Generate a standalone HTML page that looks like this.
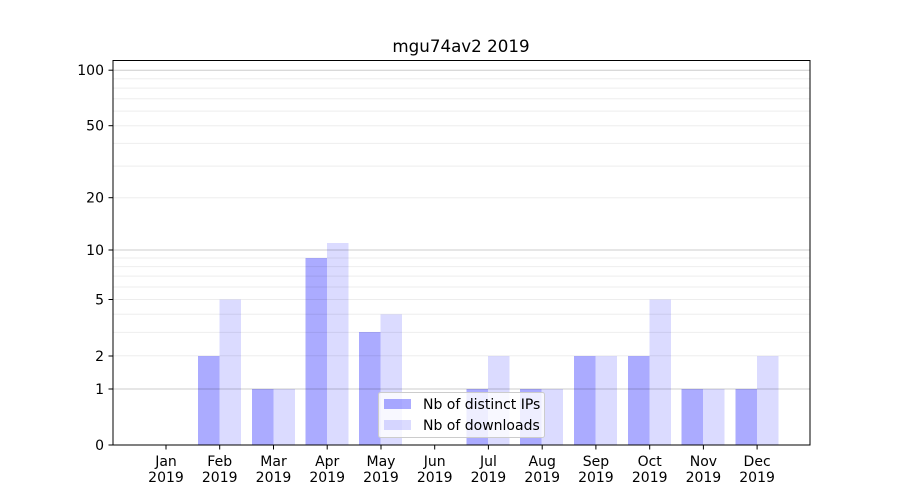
<!DOCTYPE html><html><head><style>body{margin:0;background:#fff}svg{display:block}text{font-family:"DejaVu Sans","Liberation Sans",sans-serif;font-size:14px;fill:#000}</style></head><body>
<svg width="900" height="500" xmlns="http://www.w3.org/2000/svg">
<rect width="900" height="500" fill="#fff"/>
<g fill-opacity="0.33" fill="#0000ff">
<rect x="198" y="356" width="21.5" height="89"/>
<rect x="252" y="389" width="21.5" height="56"/>
<rect x="305.5" y="258" width="21.5" height="187"/>
<rect x="359" y="332" width="21.5" height="113"/>
<rect x="466.5" y="389" width="21.5" height="56"/>
<rect x="520" y="389" width="21.5" height="56"/>
<rect x="574" y="356" width="21.5" height="89"/>
<rect x="628" y="356" width="21.5" height="89"/>
<rect x="681.5" y="389" width="21.5" height="56"/>
<rect x="735.5" y="389" width="21.5" height="56"/>
</g>
<g fill-opacity="0.14" fill="#0000ff">
<rect x="219.5" y="299.5" width="21.5" height="145.5"/>
<rect x="273.5" y="389" width="21.5" height="56"/>
<rect x="327" y="243" width="21.5" height="202"/>
<rect x="380.5" y="314.3" width="21.5" height="130.7"/>
<rect x="488" y="356" width="21.5" height="89"/>
<rect x="541.5" y="389" width="21.5" height="56"/>
<rect x="595.5" y="356" width="21.5" height="89"/>
<rect x="649.5" y="299.5" width="21.5" height="145.5"/>
<rect x="703" y="389" width="21.5" height="56"/>
<rect x="757" y="356" width="21.5" height="89"/>
</g>
<g stroke="#000" stroke-opacity="0.07" stroke-width="1">
<line x1="113" x2="810" y1="355.8" y2="355.8"/><line x1="113" x2="810" y1="332.4" y2="332.4"/><line x1="113" x2="810" y1="314.3" y2="314.3"/><line x1="113" x2="810" y1="299.5" y2="299.5"/><line x1="113" x2="810" y1="287" y2="287"/><line x1="113" x2="810" y1="276.1" y2="276.1"/><line x1="113" x2="810" y1="266.6" y2="266.6"/><line x1="113" x2="810" y1="258" y2="258"/>
<line x1="113" x2="810" y1="197.7" y2="197.7"/><line x1="113" x2="810" y1="166.1" y2="166.1"/><line x1="113" x2="810" y1="143.4" y2="143.4"/><line x1="113" x2="810" y1="125.7" y2="125.7"/><line x1="113" x2="810" y1="111.1" y2="111.1"/><line x1="113" x2="810" y1="98.8" y2="98.8"/><line x1="113" x2="810" y1="88.1" y2="88.1"/><line x1="113" x2="810" y1="78.7" y2="78.7"/>
</g>
<g stroke="#000" stroke-opacity="0.2" stroke-width="1">
<line x1="113" x2="810" y1="389" y2="389"/><line x1="113" x2="810" y1="250" y2="250"/><line x1="113" x2="810" y1="70.2" y2="70.2"/>
</g>
<rect x="113" y="60.5" width="697" height="384.5" fill="none" stroke="#000" stroke-width="1"/>
<g stroke="#000">
<line x1="108.5" x2="113" y1="445" y2="445"/><line x1="108.5" x2="113" y1="389" y2="389"/><line x1="108.5" x2="113" y1="356" y2="356"/><line x1="108.5" x2="113" y1="299.5" y2="299.5"/><line x1="108.5" x2="113" y1="250" y2="250"/><line x1="108.5" x2="113" y1="197.7" y2="197.7"/><line x1="108.5" x2="113" y1="125.7" y2="125.7"/><line x1="108.5" x2="113" y1="70.2" y2="70.2"/>
</g>
<g text-anchor="end">
<text x="104" y="450">0</text><text x="104" y="394">1</text><text x="104" y="361">2</text><text x="104" y="304.5">5</text><text x="104" y="255">10</text><text x="104" y="202.7">20</text><text x="104" y="130.7">50</text><text x="104" y="75.2">100</text>
</g>
<g stroke="#000">
<line x1="166" x2="166" y1="445" y2="449.5"/><line x1="219.7" x2="219.7" y1="445" y2="449.5"/><line x1="273.5" x2="273.5" y1="445" y2="449.5"/><line x1="327.2" x2="327.2" y1="445" y2="449.5"/><line x1="381" x2="381" y1="445" y2="449.5"/><line x1="434.7" x2="434.7" y1="445" y2="449.5"/><line x1="488.4" x2="488.4" y1="445" y2="449.5"/><line x1="542.2" x2="542.2" y1="445" y2="449.5"/><line x1="595.9" x2="595.9" y1="445" y2="449.5"/><line x1="649.7" x2="649.7" y1="445" y2="449.5"/><line x1="703.4" x2="703.4" y1="445" y2="449.5"/><line x1="757.1" x2="757.1" y1="445" y2="449.5"/>
</g>
<g text-anchor="middle">
<text x="166" y="466">Jan</text><text x="166" y="482">2019</text>
<text x="219.7" y="466">Feb</text><text x="219.7" y="482">2019</text>
<text x="273.5" y="466">Mar</text><text x="273.5" y="482">2019</text>
<text x="327.2" y="466">Apr</text><text x="327.2" y="482">2019</text>
<text x="381" y="466">May</text><text x="381" y="482">2019</text>
<text x="434.7" y="466">Jun</text><text x="434.7" y="482">2019</text>
<text x="488.4" y="466">Jul</text><text x="488.4" y="482">2019</text>
<text x="542.2" y="466">Aug</text><text x="542.2" y="482">2019</text>
<text x="595.9" y="466">Sep</text><text x="595.9" y="482">2019</text>
<text x="649.7" y="466">Oct</text><text x="649.7" y="482">2019</text>
<text x="703.4" y="466">Nov</text><text x="703.4" y="482">2019</text>
<text x="757.1" y="466">Dec</text><text x="757.1" y="482">2019</text>
<text x="461" y="52" style="font-size:16.7px">mgu74av2 2019</text>
</g>
<rect x="378.5" y="392.5" width="166" height="45" rx="2" fill="#fff" fill-opacity="0.8" stroke="#ccc" stroke-width="1"/>
<rect x="384" y="399" width="27" height="10" fill="#0000ff" fill-opacity="0.33"/>
<rect x="384" y="420" width="27" height="10" fill="#0000ff" fill-opacity="0.14"/>
<text x="423" y="409">Nb of distinct IPs</text>
<text x="423" y="430">Nb of downloads</text>
</svg>
</body></html>
